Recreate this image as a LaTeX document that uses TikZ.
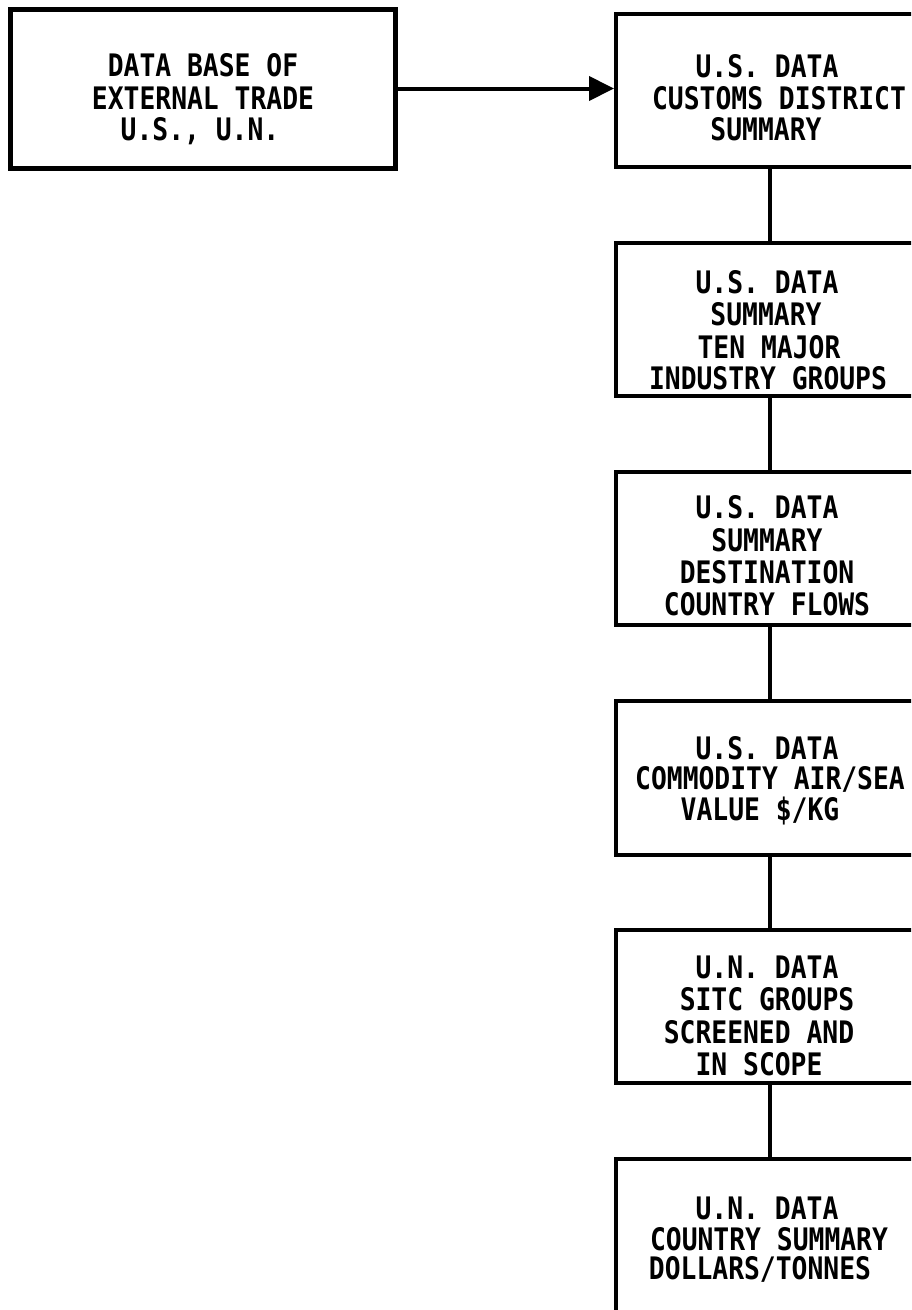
\documentclass[tikz,border=0pt]{standalone}
\usepackage{fontspec}
\newfontfamily\typew[FakeStretch=0.85]{DejaVu Sans Mono}
\usetikzlibrary{arrows.meta}
\begin{document}
\begin{tikzpicture}[x=1pt,y=-1pt,
  box/.style={draw, line width=4pt, rectangle, inner sep=0pt, minimum width=308pt, minimum height=153pt},
  txt/.style={anchor=base, inner sep=0pt, font=\typew\bfseries\fontsize{31}{32}\selectfont},
  link/.style={line width=3.2pt}]
\useasboundingbox (0,0) rectangle (911,1310);
\clip (0,0) rectangle (911,1310);
% boxes
\node[box, line width=5pt, minimum width=385pt, minimum height=159pt] (lb) at (202.5,88.5) {};
\node[box] (b1) at (770,90) {};
\node[box] (b2) at (770,319.5) {};
\node[box] (b3) at (770,548) {};
\node[box, minimum height=154pt] (b4) at (770,778) {};
\node[box] (b5) at (770,1006.5) {};
\node[box] (b6) at (770,1235.5) {};
% texts
\node[txt] (l1) at (203,76) {DATA BASE OF};
\node[txt] (l2) at (203,109) {EXTERNAL TRADE};
\node[txt] (l3) at (200,140) {U.S., U.N.};
\node[txt] (t11) at (767,77) {U.S. DATA};
\node[txt] (t12) at (779,109) {CUSTOMS DISTRICT};
\node[txt] (t13) at (766,140) {SUMMARY};
\node[txt] (t21) at (767,293) {U.S. DATA};
\node[txt] (t22) at (766,325) {SUMMARY};
\node[txt] (t23) at (769,358) {TEN MAJOR};
\node[txt] (t24) at (768,389) {INDUSTRY GROUPS};
\node[txt] (t31) at (767,518) {U.S. DATA};
\node[txt] (t32) at (767,551) {SUMMARY};
\node[txt] (t33) at (767,583) {DESTINATION};
\node[txt] (t34) at (767,615) {COUNTRY FLOWS};
\node[txt] (t41) at (767,759) {U.S. DATA};
\node[txt] (t42) at (770,789) {COMMODITY AIR/SEA};
\node[txt] (t43) at (760,820) {VALUE \$/KG};
\node[txt] (t51) at (767,978) {U.N. DATA};
\node[txt] (t52) at (767,1010) {SITC GROUPS};
\node[txt] (t53) at (759,1043) {SCREENED AND};
\node[txt] (t54) at (759,1075) {IN SCOPE};
\node[txt] (t61) at (767,1219) {U.N. DATA};
\node[txt] (t62) at (769,1250) {COUNTRY SUMMARY};
\node[txt] (t63) at (760,1279) {DOLLARS/TONNES};
% connectors
\draw[line width=4pt, -{Triangle[length=25pt,width=24pt]}] (lb.east) -- (lb.east -| b1.west);
\draw[link] (b1.south) -- (b2.north);
\draw[link] (b2.south) -- (b3.north);
\draw[link] (b3.south) -- (b4.north);
\draw[link] (b4.south) -- (b5.north);
\draw[link] (b5.south) -- (b6.north);
\end{tikzpicture}
\end{document}
